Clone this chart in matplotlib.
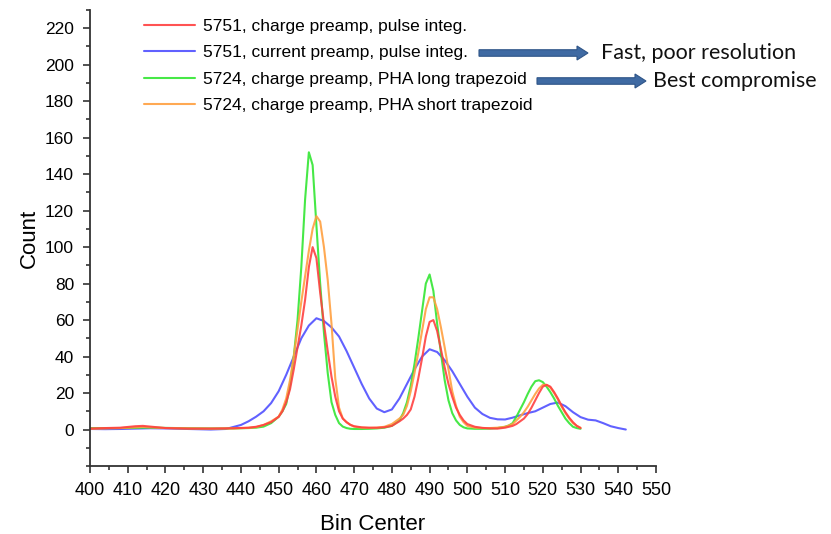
import matplotlib
matplotlib.use("Agg")
from matplotlib import pyplot as plt
from matplotlib.patches import FancyArrow
from matplotlib.ticker import MultipleLocator

# bin centres: coarse on the flat baseline, one channel apart over the peaks
bins_a = ([400, 404, 408, 412, 414, 416, 420, 426, 432, 438, 442, 444, 446, 448, 450]
          + list(range(451, 471)) + [472, 474, 476, 478, 480, 482]
          + list(range(483, 501)) + [502, 504, 506, 508, 510] + list(range(511, 531)))

# counts
red = [0.5, 0.8, 1.0, 1.8, 2.0, 1.6, 0.8, 0.5, 0.5, 0.7, 1.0, 1.5, 2.5, 4, 7,
       10, 15, 22, 33, 45, 57, 71, 89, 100, 94, 75, 58, 43, 29, 18, 10, 6, 4, 2.6, 1.8,
       1.2, 1, 1, 1.2, 2, 4.5,
       6, 8, 11, 18, 28, 39, 51, 59, 60, 54, 44, 34, 25, 18, 12, 8, 5, 3,
       1.5, 0.9, 0.6, 0.5, 1,
       1.5, 2, 3, 4.5, 6, 8.5, 12, 16, 20, 23.5, 24.5, 23.5, 20.5, 17, 13, 9.5, 6.5, 4, 2, 0.8]

green = [0.8, 0.8, 0.8, 0.9, 1.0, 1.0, 0.9, 0.7, 0.6, 0.6, 0.8, 1.0, 1.6, 3.5, 7,
         10, 14, 24, 40, 60, 89, 126, 152, 145, 112, 80, 53, 31, 15, 8, 3.5, 1.6, 0.8, 0.4, 0.3,
         0.3, 0.4, 0.6, 1.0, 2, 5,
         9, 15, 24, 36, 50, 65, 80, 85, 76, 58, 42, 27, 16, 9, 5, 2.5, 1.2, 0.6,
         0.4, 0.4, 0.5, 0.8, 1.5,
         2.2, 3.5, 7, 11, 15, 19.5, 23.5, 26.5, 27, 26, 23.5, 20.5, 17, 13, 9.5, 6, 3.5, 1.5, 0.8, 0.4]

orange = [0.4, 0.6, 0.8, 1.2, 1.4, 1.2, 0.8, 0.6, 0.5, 0.6, 0.9, 1.3, 2.5, 4.5, 7,
          11, 17, 27, 40, 55, 70, 84, 98, 110, 117, 114, 100, 82, 58, 28, 12, 6, 4, 2.5, 1.6,
          1, 0.9, 1, 1.5, 3, 6,
          8, 13, 21, 31, 42, 54, 66, 72.5, 72.5, 66, 56, 45, 33, 21, 13, 7, 4, 2,
          1, 0.8, 0.8, 1, 1.5,
          2.2, 3, 5, 7, 9.5, 12.5, 16, 19.5, 22.5, 24.5, 24.5, 23, 20, 16.5, 12.5, 9, 6, 3.5, 2, 1]

bins_b = [400, 404, 408, 412, 416, 420, 426, 432, 436] + list(range(440, 543, 2))

blue = [0.3, 0.2, 0.3, 0.5, 0.7, 0.6, 0.3, 0.0, 0.3,
        2.5, 4.5, 7, 10, 14.5, 21, 30, 40, 50, 57,
        61, 59.5, 56, 51, 43, 34, 25, 17, 11.5, 9.5,
        11, 17, 25, 33, 40, 44, 42.5, 38, 32, 25,
        18, 12, 8.5, 6.4, 5.6, 5.5, 6.5, 7.8, 9, 10,
        12, 14, 14.8, 12.8, 9.5, 6.8, 5.4, 5, 3.5, 1.8, 0.8, 0]

labels = ["5751, charge preamp, pulse integ.",
          "5751, current preamp, pulse integ.",
          "5724, charge preamp, PHA long trapezoid",
          "5724, charge preamp, PHA short trapezoid"]
notes = ["Fast, poor resolution", "Best compromise"]

plt.rcParams["font.family"] = ["Liberation Sans", "DejaVu Sans"]

W, H = 831, 534
fig = plt.figure(figsize=(W / 100, H / 100), dpi=100)
ax = fig.add_axes([90 / W, 1 - 466 / H, (656 - 90) / W, (466 - 10) / H])

kw = dict(lw=1.5, alpha=0.9, solid_joinstyle="round", solid_capstyle="round")
l_blue, = ax.plot(bins_b, blue, color="#5050ff", **kw)
l_green, = ax.plot(bins_a, green, color="#33e633", **kw)
l_orange, = ax.plot(bins_a, orange, color="#ffa040", **kw)
l_red, = ax.plot(bins_a, red, color="#ff4040", **kw)

ax.set_xlim(400, 550)
ax.set_ylim(-20, 230)
ax.xaxis.set_major_locator(MultipleLocator(10))
ax.xaxis.set_minor_locator(MultipleLocator(5))
ax.set_yticks(range(0, 221, 20))
ax.yaxis.set_minor_locator(MultipleLocator(10))
ax.tick_params(which="major", direction="out", length=5, width=1.2, color="#333333")
ax.tick_params(which="minor", direction="out", length=2.7, width=1.2, color="#333333")
ax.tick_params(axis="x", labelsize=13, pad=6.5)
ax.tick_params(axis="y", labelsize=12.5, pad=6.5)
for s in ["top", "right"]:
    ax.spines[s].set_visible(False)
for s in ["left", "bottom"]:
    ax.spines[s].set_linewidth(1.3)
    ax.spines[s].set_color("#333333")

ax.set_xlabel("Bin Center", fontsize=16, labelpad=11)
ax.set_ylabel("Count", fontsize=16, labelpad=4)

ax.legend([l_red, l_blue, l_green, l_orange], labels, loc="upper left",
          bbox_to_anchor=(144 / W, 1 - 19 / H), bbox_transform=fig.transFigure,
          borderpad=0, borderaxespad=0, frameon=False, fontsize=12.5,
          handlelength=2.95, handletextpad=0.45, labelspacing=0.64)

# block arrows and notes next to the legend (figure pixels)
arrow_rows = [(479, 588, 53, 601, notes[0]), (537, 646, 81, 653, notes[1])]
for x0, x1, y, xt, txt in arrow_rows:
    fig.patches.append(FancyArrow(
        x0 / W, 1 - y / H, (x1 - x0) / W, 0, width=6.5 / H, head_width=14 / H,
        head_length=11 / W, length_includes_head=True, transform=fig.transFigure,
        facecolor="#3f6aa3", edgecolor="#2f5588", lw=0.8))
    fig.text(xt / W, 1 - y / H, txt, fontsize=15.5, family=["Lato", "DejaVu Sans"],
             va="center", ha="left", color="#111111")

plt.savefig("out.png", dpi=100)
plt.close()
